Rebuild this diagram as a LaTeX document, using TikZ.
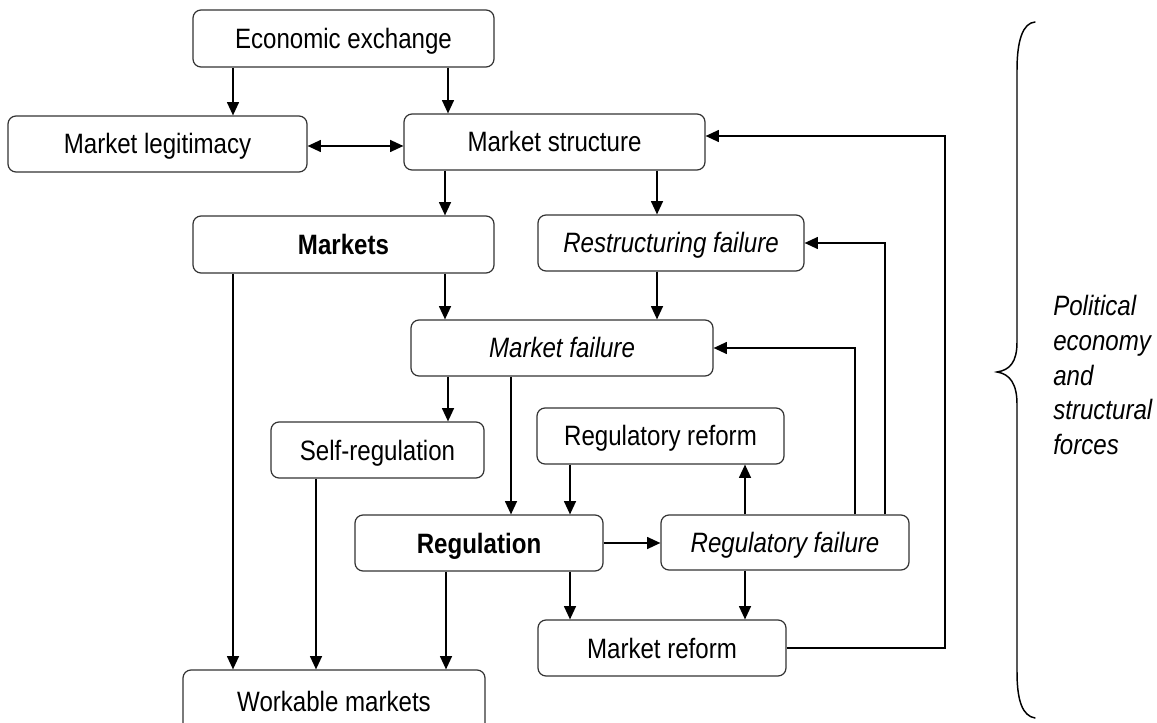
\documentclass[tikz,border=0pt]{standalone}
\usepackage{fontspec}
\setmainfont[FakeStretch=0.86]{Liberation Sans}
\usetikzlibrary{arrows.meta}
\begin{document}
\begin{tikzpicture}[x=0.75pt,y=-0.75pt,
  box/.style={draw=black!80, line width=0.9pt, rounded corners=6pt, fill=white,
    text height=15pt, text depth=0pt, inner sep=2pt,
    font=\fontsize{21}{26}\selectfont},
  tip/.style={},
  link/.style={line width=1.1pt, -{Triangle[length=10pt,width=9pt]}},
  twoway/.style={line width=1.1pt, {Triangle[length=10pt,width=9pt]}-{Triangle[length=10pt,width=9pt]}},
  bracepath/.style={line width=1.1pt, line cap=round},
]
\useasboundingbox (0,0) rectangle (1157,723);
\clip (0,0) rectangle (1157,723);

% boxes
\node[box, minimum width=225.75pt, minimum height=42.75pt] (econ)    at (343.5,38.5) {Economic exchange};
\node[box, minimum width=224.25pt, minimum height=42pt]    (legit)   at (157.5,144)  {Market legitimacy};
\node[box, minimum width=225.75pt, minimum height=42pt]    (struct)  at (554.5,142)  {Market structure};
\node[box, minimum width=225.75pt, minimum height=42.75pt] (markets) at (343.5,244.5) {\bfseries Markets};
\node[box, minimum width=199.5pt,  minimum height=42pt]    (restr)   at (671,243)    {\itshape Restructuring failure};
\node[box, minimum width=226.5pt,  minimum height=42pt]    (mfail)   at (562,348)    {\itshape Market failure};
\node[box, minimum width=159.75pt, minimum height=42pt]    (selfreg) at (377.5,450)  {Self-regulation};
\node[box, minimum width=185.25pt, minimum height=42pt]    (regref)  at (660.5,436)  {Regulatory reform};
\node[box, minimum width=186pt,    minimum height=42pt]    (regul)   at (479,543)    {\bfseries Regulation};
\node[box, minimum width=186pt,    minimum height=41.25pt] (regfail) at (785,542.5)  {\itshape Regulatory failure};
\node[box, minimum width=186pt,    minimum height=42pt]    (mref)    at (662,648)    {Market reform};
\node[box, minimum width=226.5pt,  minimum height=46.5pt]  (work)    at (334,701)    {Workable markets};

% connectors
\draw[link] (econ.south -| 233,0) -- (legit.north -| 233,0);
\draw[link] (econ.south -| 448,0) -- (struct.north -| 448,0);
\draw[twoway] (legit.east |- 0,146) -- (struct.west |- 0,146);
\draw[link] (struct.south -| 445,0) -- (markets.north -| 445,0);
\draw[link] (struct.south -| 657,0) -- (restr.north -| 657,0);
\draw[link] (markets.south -| 445,0) -- (mfail.north -| 445,0);
\draw[link] (restr.south -| 657,0) -- (mfail.north -| 657,0);
\draw[link] (mfail.south -| 448,0) -- (selfreg.north -| 448,0);
\draw[link] (mfail.south -| 511,0) -- (regul.north -| 511,0);
\draw[link] (regref.south -| 570,0) -- (regul.north -| 570,0);
\draw[link] (regul.east) -- (regul.east -| regfail.west);
\draw[link] (regfail.north -| 745,0) -- (regref.south -| 745,0);
\draw[link] (regfail.north -| 855,0) -- (mfail.east -| 855,0) -- (mfail.east);
\draw[link] (regfail.north -| 885,0) -- (restr.east -| 885,0) -- (restr.east);
\draw[link] (mref.east) -- (mref.east -| 945,0) -- (945,136) -- (struct.east |- 0,136);
\draw[link] (regul.south -| 570,0) -- (mref.north -| 570,0);
\draw[link] (regfail.south -| 745,0) -- (mref.north -| 745,0);
\draw[link] (markets.south -| 233,0) -- (work.north -| 233,0);
\draw[link] (selfreg.south -| 316,0) -- (work.north -| 316,0);
\draw[link] (regul.south -| 446,0) -- (work.north -| 446,0);

% curly brace on the right
\draw[bracepath] (1035,22) .. controls (1023,23) and (1017,40) .. (1017,70)
  -- (1017,342) .. controls (1017,362) and (1010,370) .. (997,372)
  .. controls (1010,374) and (1017,384) .. (1017,404)
  -- (1017,672) .. controls (1017,702) and (1023,716) .. (1035,718);

\node[font=\itshape\fontsize{21}{26}\selectfont, align=left, anchor=west, inner sep=0pt]
  (side) at (1053,375) {Political\\economy\\and\\structural\\forces};
\end{tikzpicture}
\end{document}
